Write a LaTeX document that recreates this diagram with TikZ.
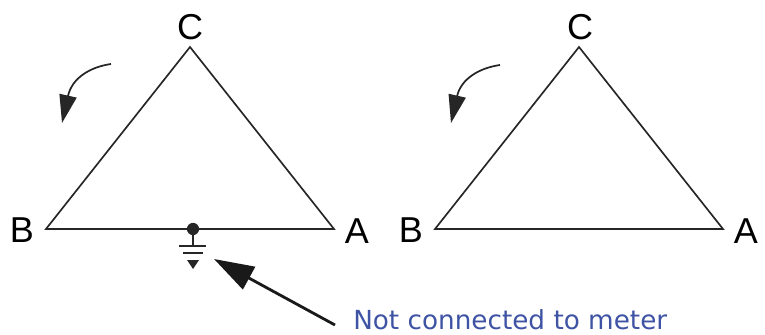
\documentclass[tikz,border=0pt]{standalone}
\usepackage{fontspec}
\setmainfont{Liberation Sans}
\newfontfamily\verd{DejaVu Sans}
\usetikzlibrary{arrows.meta}
\definecolor{notec}{RGB}{62,83,164}
\tikzset{
  px/.style={x=0.75pt,y=-0.75pt},
  wire/.style={line width=1.25pt,black!85},
  lab/.style={font=\fontsize{27}{27}\selectfont,inner sep=0pt,anchor=center},
  turn/.style={line width=1.3pt,black!85,-{Triangle[length=21pt,width=13pt]}},
}
\begin{document}
\begin{tikzpicture}[px]
\useasboundingbox (0,0) rectangle (765,335);
\coordinate (c1) at (190,47);
\coordinate (b1) at (46,229);
\coordinate (a1) at (334,229);
\coordinate (c2) at (579,47);
\coordinate (b2) at (435,229);
\coordinate (a2) at (723,229);
\draw[wire,line join=miter] (c1) -- (b1) -- (a1) -- cycle;
\draw[wire,line join=miter] (c2) -- (b2) -- (a2) -- cycle;
\node[lab] (lc1) at (190,27) {C};
\node[lab] (lb1) at (22,230) {B};
\node[lab] (la1) at (357,231) {A};
\node[lab] (lc2) at (580,27) {C};
\node[lab] (lb2) at (411,230) {B};
\node[lab] (la2) at (746,231) {A};
\coordinate (t1s) at (111,64);
\coordinate (t1e) at (62,123);
\draw[turn] (t1s) .. controls (90,67) and (72,78) .. (t1e);
\coordinate (t2s) at (500,65);
\coordinate (t2e) at (451,123);
\draw[turn] (t2s) .. controls (479,68) and (461,79) .. (t2e);
\node[circle,fill=black!85,inner sep=0pt,minimum size=9.2pt] (dot) at (193,229) {};
\coordinate (g0) at (193,246);
\draw[wire] (dot) -- (g0);
\draw[wire] (179,246) -- (206,246);
\draw[wire] (183,253) -- (203,253);
\fill[black!85] (187,260) -- (199,260) -- (193,269) -- cycle;
\coordinate (ps) at (335,325);
\coordinate (pe) at (214,259);
\draw[line width=2.1pt,black!90,-{Triangle[length=30pt,width=19pt]}] (ps) -- (pe);
\node[font=\verd\fontsize{19.7}{21}\selectfont,text=notec,anchor=west,inner sep=0pt] (note) at (353,320) {Not connected to meter};
\end{tikzpicture}
\end{document}
